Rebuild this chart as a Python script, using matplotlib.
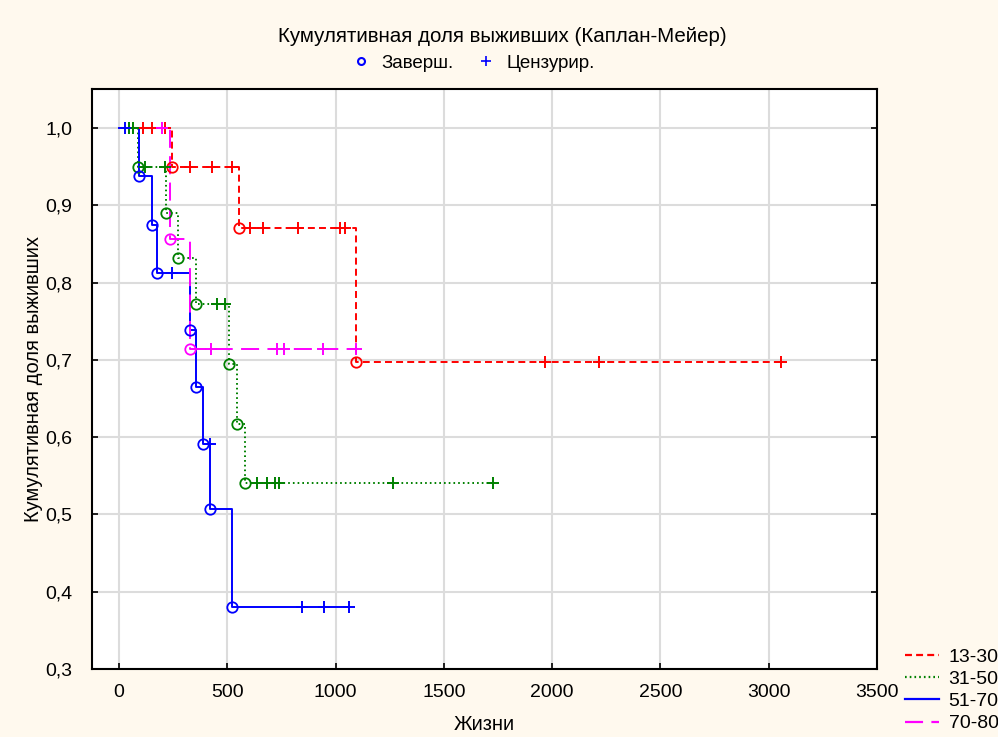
import numpy as np
import matplotlib
matplotlib.use('Agg')
import matplotlib.pyplot as plt
from matplotlib.lines import Line2D

# ==================== DATA ====================
# Kaplan-Meier curves by age group: event times, survival after each event,
# censored times and the last observed time of each group.

GROUPS = ["13-30", "31-50", "51-70", "70-80"]

red_events = [246, 555, 1096]
red_surv = [0.95, 0.8708, 0.6967]
red_censored = [110, 150, 210, 327, 428, 520, 604, 663, 826, 1018, 1041, 1965, 2214, 3055]

green_events = [88, 216, 271, 354, 506, 543, 580]
green_surv = [0.95, 0.8906, 0.8313, 0.7719, 0.6947, 0.6175, 0.5403]
green_censored = [45, 64, 119, 211, 451, 488, 635, 681, 722, 737, 1264, 1725]

blue_events = [91, 151, 174, 326, 354, 388, 420, 520]
blue_surv = [0.9375, 0.875, 0.8125, 0.7386, 0.6648, 0.5909, 0.5065, 0.3799]
blue_censored = [27, 243, 418, 845, 945, 1060]

magenta_events = [235, 326]
magenta_surv = [0.8571, 0.7143]
magenta_censored = [200, 424, 728, 761, 940, 1096]

X_TICKS = [0, 500, 1000, 1500, 2000, 2500, 3000, 3500]
Y_TICKS = [0.3, 0.4, 0.5, 0.6, 0.7, 0.8, 0.9, 1.0]

# ==================== STYLE ====================

plt.rcParams['font.family'] = ['Liberation Sans', 'DejaVu Sans']
plt.rcParams['lines.scale_dashes'] = False

BG = '#fff9ee'
series = [
    (red_events, red_surv, red_censored, 'red', (0, (5, 3))),
    (green_events, green_surv, green_censored, 'green', (0, (1.2, 2.2))),
    (blue_events, blue_surv, blue_censored, 'blue', '-'),
    (magenta_events, magenta_surv, magenta_censored, 'magenta', (0, (13, 6))),
]


def surv_at(t, events, surv):
    # value of the step function at time t
    idx = np.searchsorted(events, t, side='right')
    return 1.0 if idx == 0 else surv[idx - 1]


fig = plt.figure(figsize=(9.98, 7.37), dpi=100, facecolor=BG)
ax = fig.add_axes([0.0922, 0.0923, 0.7866, 0.7863])
ax.set_facecolor('white')

handles = []
for events, surv, cens, color, ls in series:
    end = max(cens[-1], events[-1])
    t = [0] + events + [end]
    s = [1.0] + surv + [surv[-1]]
    ax.step(t, s, where='post', color=color, linestyle=ls, lw=1.4, zorder=3)
    ax.plot(events, surv, 'o', ms=7.5, mfc='none', mec=color, mew=1.3, zorder=4)
    cy = [surv_at(c, events, surv) for c in cens]
    ax.plot(cens, cy, '+', ms=9, color=color, mew=1.4, zorder=4)
    handles.append(Line2D([], [], color=color, linestyle=ls, lw=1.6))

ax.set_xlim(-125, 3500)
ax.set_ylim(0.3, 1.05)
ax.set_xticks(X_TICKS)
ax.set_yticks(Y_TICKS)
ax.set_yticklabels([f"{v:.1f}".replace('.', ',') for v in Y_TICKS])
ax.grid(True, color='#dcdcdc', lw=1.5, zorder=0)
ax.tick_params(direction='in', length=4, width=1.2, labelsize=14, right=True,
               colors='black')
ax.tick_params(axis='x', pad=11)
ax.tick_params(axis='y', pad=14)
for sp in ax.spines.values():
    sp.set_linewidth(1.5)
    sp.set_color('black')

ax.set_xlabel('Жизни', fontsize=14.5, labelpad=10)
ax.set_ylabel('Кумулятивная доля выживших', fontsize=14.5, labelpad=2)

fig.text(0.503, 1 - 37 / 737, 'Кумулятивная доля выживших (Каплан-Мейер)',
         ha='center', va='center', fontsize=14.8)

mark_handles = [
    Line2D([], [], marker='o', ls='none', ms=5, mfc='none', mec='blue', mew=1.5),
    Line2D([], [], marker='+', ls='none', ms=7, color='blue', mew=1.2),
]
fig.legend(mark_handles, ['Заверш.', 'Цензурир.'], loc='center',
           bbox_to_anchor=(0.473, 1 - 63 / 737), ncol=2, frameon=False,
           fontsize=13.5, handlelength=1.2, handletextpad=0.5, columnspacing=1.1)

fig.legend(handles, GROUPS, loc='upper left',
           bbox_to_anchor=(901 / 998, 1 - 644 / 737), frameon=False,
           fontsize=14, handlelength=1.75, handletextpad=0.5, labelspacing=0.24,
           borderaxespad=0, borderpad=0.2)

fig.savefig('out.png', dpi=100, facecolor=BG)
